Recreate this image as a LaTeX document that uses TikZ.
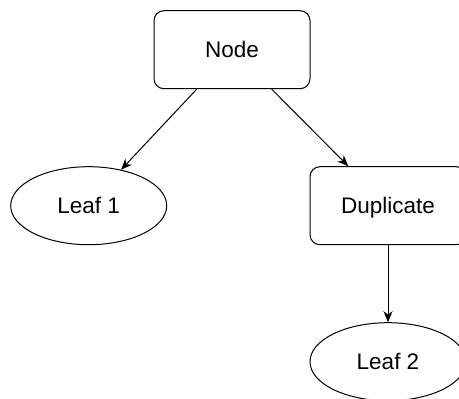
\documentclass[tikz,border=0pt]{standalone}
\usepackage{fontspec}
\setmainfont{Liberation Sans}
\usetikzlibrary{arrows.meta,shapes.geometric,calc}
\begin{document}
\begin{tikzpicture}[x=1pt,y=-1pt,
  label font/.style={font=\fontsize{22.5}{27}\selectfont,text height=16pt,text depth=0pt},
  box/.style={draw,rounded corners=10pt,minimum width=156pt,minimum height=78pt,
    inner sep=0pt,line width=1pt,label font},
  leaf/.style={draw,ellipse,minimum width=156pt,minimum height=78pt,
    inner sep=0pt,line width=1pt,label font},
  link/.style={line width=1pt,-{Stealth[length=11pt,width=9pt,inset=3.5pt]}}]
\useasboundingbox (0,0) rectangle (459,399);

\node[box]  (root) at (232,49.7)  {Node};
\node[leaf] (l1)   at (88.7,205.7) {Leaf 1};
\node[box]  (dup)  at (388,205.7) {Duplicate};
\node[leaf] (l2)   at (388,361.7) {Leaf 2};

\draw[link] ([xshift=-35.3pt]root.south) -- (l1.48);
\draw[link] ([xshift=39.7pt]root.south) -- ([xshift=-39.7pt]dup.north);
\draw[link] (dup.south) -- (l2.north);
\end{tikzpicture}
\end{document}
